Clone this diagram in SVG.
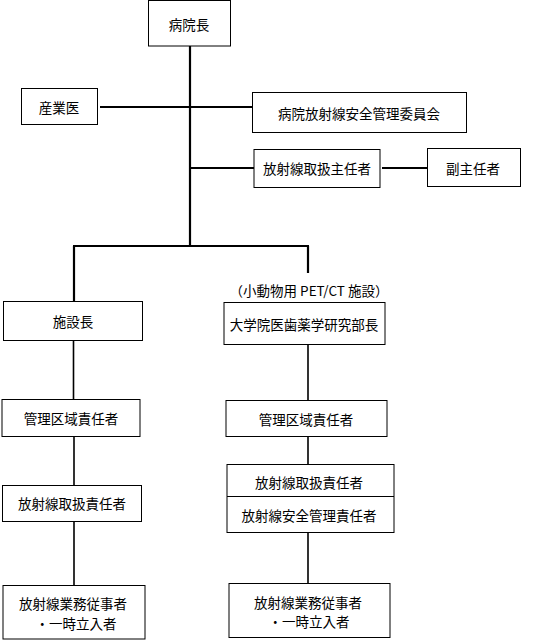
<svg xmlns="http://www.w3.org/2000/svg" width="545" height="641" viewBox="0 0 545 641">
<style>
.b{fill:#fff;stroke:#000;stroke-width:1}
.t{font-family:"Noto Sans CJK JP","Noto Sans CJK SC",sans-serif;font-size:13.5px;fill:#000;text-anchor:middle;dominant-baseline:central}
.c{stroke:#000;fill:none}
</style>
<rect width="545" height="641" fill="#fff"/>
<g id="connectors">
<path class="c" stroke-width="2.2" d="M190 46V247M100 107H252M190 168H254M382 168H427M73 246H309M74 246V301M308 246V273"/>
<path class="c" stroke-width="1.6" d="M73.5 340V399M74 436V485M74 521V585M308 344V400M308 436V464M308 532V583"/>
</g>
<g id="n_byoinchou"><rect class="b" x="148.5" y="0.5" width="82" height="45.5"/><text class="t" x="189" y="24">病院長</text></g>
<g id="n_sangyoi"><rect class="b" x="21.5" y="88.5" width="76" height="36"/><text class="t" x="59" y="107">産業医</text></g>
<g id="n_iinkai"><rect class="b" x="252.5" y="92.5" width="214" height="40"/><text class="t" x="359" y="113">病院放射線安全管理委員会</text></g>
<g id="n_shunin"><rect class="b" x="254" y="149.5" width="126" height="38"/><text class="t" x="317" y="168">放射線取扱主任者</text></g>
<g id="n_fukushunin"><rect class="b" x="427.5" y="148.5" width="93" height="38"/><text class="t" x="473" y="168">副主任者</text></g>
<g id="n_shisetsuchou"><rect class="b" x="3.5" y="301.5" width="139" height="39"/><text class="t" x="73" y="321">施設長</text></g>
<text class="t" x="309" y="290" font-size="12.5">（小動物用 PET/CT 施設）</text>
<g id="n_bunbuchou"><rect class="b" x="224" y="302.5" width="161" height="42"/><text class="t" x="304" y="324">大学院医歯薬学研究部長</text></g>
<g id="n_kanri_l"><rect class="b" x="2" y="399.5" width="138" height="37"/><text class="t" x="71" y="418">管理区域責任者</text></g>
<g id="n_kanri_r"><rect class="b" x="226" y="400.5" width="161" height="36"/><text class="t" x="306" y="419">管理区域責任者</text></g>
<g id="n_toriatsukai_l"><rect class="b" x="2.5" y="485.5" width="139" height="36"/><text class="t" x="72" y="503">放射線取扱責任者</text></g>
<g id="n_toriatsukai_r"><rect class="b" x="227" y="464.5" width="167" height="68"/><line class="c" x1="227" y1="496.5" x2="394" y2="496.5"/><text class="t" x="309" y="482">放射線取扱責任者</text><text class="t" x="309" y="515">放射線安全管理責任者</text></g>
<g id="n_juji_l"><rect class="b" x="3" y="585.5" width="142" height="53.5"/><text class="t" x="73" y="603">放射線業務従事者</text><text class="t" x="76" y="623">・一時立入者</text></g>
<g id="n_juji_r"><rect class="b" x="229" y="583.5" width="161" height="54"/><text class="t" x="308" y="602">放射線業務従事者</text><text class="t" x="309" y="621">・一時立入者</text></g>
</svg>
